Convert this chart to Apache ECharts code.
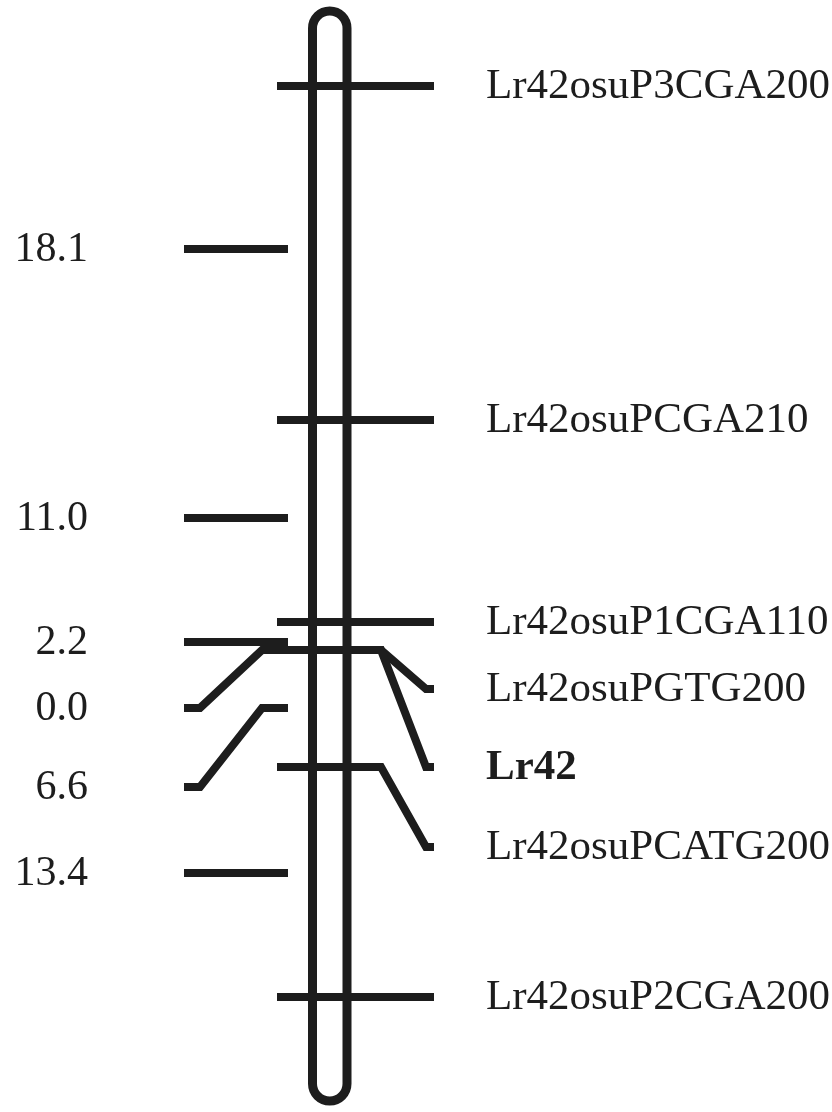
<!DOCTYPE html>
<html>
<head>
<meta charset="utf-8">
<script src="https://cdn.jsdelivr.net/npm/echarts@6/dist/echarts.min.js"></script>
<style>
  html, body { margin: 0; padding: 0; background: #ffffff; }
  #chart { width: 832px; height: 1112px; }
</style>
</head>
<body>
<div id="chart"></div>
<script>
// ---- Data (positions are along the chromosome, in picture units) ----
const markerNames = ['Lr42osuP3CGA200', 'Lr42osuPCGA210', 'Lr42osuP1CGA110', 'Lr42osuPGTG200', 'Lr42', 'Lr42osuPCATG200', 'Lr42osuP2CGA200'];
const markerBold = [false, false, false, false, true, false, false];
const markerPos = [86, 420, 622, 650, 650, 767, 997];        // where each locus sits on the bar
const markerLabelPos = [86, 420, 622, 689, 767, 847, 997];   // where its name is written
const intervalValues = ['18.1', '11.0', '2.2', '0.0', '6.6', '13.4'];   // cM between loci
const intervalBarPos = [249, 518, 642, 650, 708, 873];
const intervalLabelPos = [249, 518, 642, 708, 787, 873];
const chromosomeExtent = [11, 1101];

// ---- Style / layout ----
const ink = '#1d1d1d';
const FONT = '"Liberation Serif", "Times New Roman", serif';
const LW = 8;

const chart = echarts.init(document.getElementById('chart'), null, { renderer: 'canvas' });

const option = {
  backgroundColor: '#ffffff',
  animation: false,
  grid: { left: 0, right: 0, top: 0, bottom: 0 },
  xAxis: { type: 'value', min: 0, max: 832, show: false },
  yAxis: { type: 'value', min: 0, max: 1112, inverse: true, show: false },
  series: [
    // chromosome outline
    {
      type: 'custom',
      data: [[chromosomeExtent[0], chromosomeExtent[1]]],
      renderItem: function (params, api) {
        const a = api.coord([312.5, api.value(0)]);
        const b = api.coord([347, api.value(1)]);
        const w = b[0] - a[0];
        return {
          type: 'rect',
          shape: { x: a[0], y: a[1], width: w, height: b[1] - a[1], r: w / 2 },
          style: { fill: null, stroke: ink, lineWidth: 9 }
        };
      }
    },
    // loci (right side)
    {
      type: 'custom',
      data: markerPos.map((p, i) => [p, markerLabelPos[i]]),
      renderItem: function (params, api) {
        const bar = api.value(0), lab = api.value(1);
        const c = (x, y) => api.coord([x, y]);
        const pts = bar === lab
          ? [c(277, bar), c(434, bar)]
          : [c(277, bar), c(381, bar), c(426, lab), c(434, lab)];
        const t = c(486, lab);
        const i = params.dataIndex;
        return {
          type: 'group',
          children: [
            { type: 'polyline', shape: { points: pts },
              style: { stroke: ink, lineWidth: LW, fill: null, lineJoin: 'miter', lineCap: 'butt' } },
            { type: 'text', x: t[0], y: t[1] + 1,
              style: { text: markerNames[i], fill: ink, align: 'left', verticalAlign: 'middle',
                       font: (markerBold[i] ? 'bold ' : '') + '43px ' + FONT } }
          ]
        };
      }
    },
    // intervals (left side)
    {
      type: 'custom',
      data: intervalBarPos.map((p, i) => [p, intervalLabelPos[i]]),
      renderItem: function (params, api) {
        const bar = api.value(0), lab = api.value(1);
        const c = (x, y) => api.coord([x, y]);
        const pts = bar === lab
          ? [c(184, bar), c(288, bar)]
          : [c(184, lab), c(200, lab), c(262, bar), c(288, bar)];
        const t = c(88, lab);
        return {
          type: 'group',
          children: [
            { type: 'polyline', shape: { points: pts },
              style: { stroke: ink, lineWidth: LW, fill: null, lineJoin: 'miter', lineCap: 'butt' } },
            { type: 'text', x: t[0], y: t[1] + 1,
              style: { text: intervalValues[params.dataIndex], fill: ink, align: 'right', verticalAlign: 'middle',
                       font: '42px ' + FONT } }
          ]
        };
      }
    }
  ]
};

chart.setOption(option);
</script>
</body>
</html>
